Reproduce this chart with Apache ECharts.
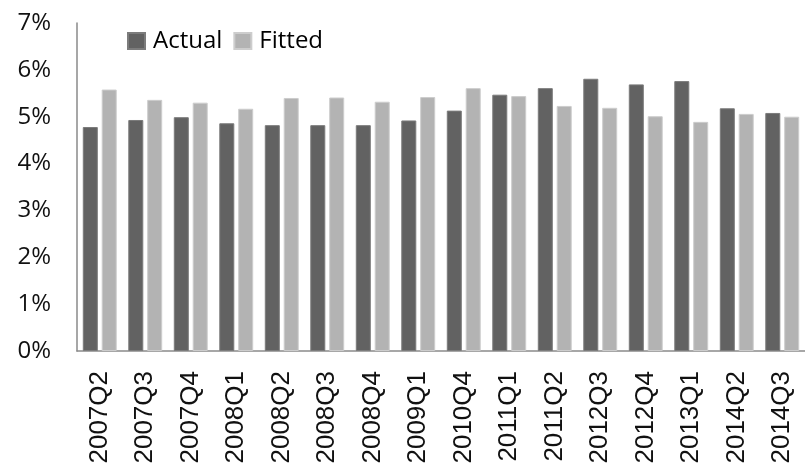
<!DOCTYPE html>
<html>
<head>
<meta charset="utf-8">
<script src="https://cdn.jsdelivr.net/npm/echarts@6/dist/echarts.min.js"></script>
<style>html,body{margin:0;padding:0;background:#fff}#c{width:805px;height:468px}</style>
</head>
<body>
<div id="c"></div>
<script>
const categories = ['2007Q2','2007Q3','2007Q4','2008Q1','2008Q2','2008Q3','2008Q4','2009Q1','2010Q4','2011Q1','2011Q2','2012Q3','2012Q4','2013Q1','2014Q2','2014Q3'];
const actual = [4.78,4.93,4.99,4.86,4.82,4.82,4.82,4.92,5.13,5.47,5.61,5.81,5.69,5.76,5.18,5.08];
const fitted = [5.58,5.36,5.30,5.17,5.40,5.41,5.32,5.42,5.61,5.44,5.23,5.19,5.01,4.89,5.06,5.00];
const yTicks = {min:0, max:7, interval:1};

const chart = echarts.init(document.getElementById('c'));
chart.setOption({
  animation:false,
  textStyle:{fontFamily:'Open Sans'},
  legend:{
    left:122, top:24, itemWidth:17, itemHeight:16, itemGap:11, icon:'rect',
    textStyle:{fontSize:24, color:'#000', fontFamily:'Open Sans', padding:[0,0,0,3]},
    data:['Actual','Fitted']
  },
  grid:{left:77, right:-10, top:23, bottom:117},
  xAxis:{
    type:'category', data:categories,
    axisLine:{lineStyle:{color:'#8a8a8a', width:1.5}},
    axisTick:{show:false},
    axisLabel:{rotate:90, interval:0, margin:20, fontSize:26, color:'#111', fontFamily:'Liberation Sans'}
  },
  yAxis:{
    type:'value', min:yTicks.min, max:yTicks.max, interval:yTicks.interval,
    axisLine:{show:true, lineStyle:{color:'#8a8a8a', width:1.5}},
    axisTick:{show:false},
    splitLine:{show:false},
    axisLabel:{formatter:'{value}%', fontSize:24, color:'#111', margin:26, fontFamily:'Open Sans'}
  },
  series:[
    {name:'Actual', type:'bar', data:actual, barWidth:'33%', barGap:'26%',
     itemStyle:{color:'#626262', borderColor:'#7c7c7c', borderWidth:1}},
    {name:'Fitted', type:'bar', data:fitted, barWidth:'33%',
     itemStyle:{color:'#b3b3b3', borderColor:'#cdcdcd', borderWidth:1}}
  ]
});
</script>
</body>
</html>
